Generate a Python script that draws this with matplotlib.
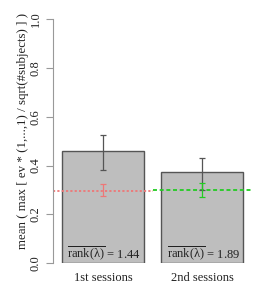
import matplotlib
matplotlib.use("Agg")
import matplotlib.pyplot as plt
import numpy as np

plt.rcParams['font.family'] = ['Liberation Serif', 'DejaVu Serif']
plt.rcParams['mathtext.fontset'] = 'custom'
plt.rcParams['mathtext.rm'] = 'Liberation Serif'
plt.rcParams['mathtext.it'] = 'Liberation Serif:italic'

categories = ["1st sessions", "2nd sessions"]
bar_values = [0.458, 0.375]
err_lo = [0.382, 0.300]
err_hi = [0.525, 0.430]
ref_values = [0.297, 0.299]
ref_lo = [0.274, 0.273]
ref_hi = [0.323, 0.327]
ref_colors = ["#EE7777", "#22CC22"]
rank_values = [1.44, 1.89]
yticks = [0.0, 0.2, 0.4, 0.6, 0.8, 1.0]
ylabel = "mean ( max [ ev * (1,...,1) / sqrt(#subjects) ] )"

fig = plt.figure(figsize=(2.7, 3.0), dpi=100)
ax = fig.add_axes([53/270, (300-263.3)/300, (252.6-53)/270, (263.3-19)/300])

x = np.arange(len(categories))
ax.bar(x, bar_values, width=0.825, color="#BEBEBE", edgecolor="#555555", linewidth=1.0, zorder=1)

for i in range(len(categories)):
    ls = (0, (1.2, 1.2)) if i == 0 else (0, (2.2, 1.5))
    ax.plot([i - 0.5, i + 0.5], [ref_values[i], ref_values[i]], color=ref_colors[i],
            linestyle=ls, linewidth=1.3, zorder=2)

for i in range(len(categories)):
    ax.errorbar([x[i]], [bar_values[i]],
                yerr=[[bar_values[i] - err_lo[i]], [err_hi[i] - bar_values[i]]],
                fmt='none', ecolor="#555555", elinewidth=0.9, capsize=2.2, capthick=0.9, zorder=3)
    ax.errorbar([x[i]], [ref_values[i]],
                yerr=[[ref_values[i] - ref_lo[i]], [ref_hi[i] - ref_values[i]]],
                fmt='none', ecolor=ref_colors[i], elinewidth=0.9, capsize=2.4, capthick=0.9, zorder=4)

for i in range(len(categories)):
    ax.text(x[i] - 0.36, 0.04, r"$\overline{\mathrm{rank(λ)}}$" + " = %.2f" % rank_values[i],
            ha='left', va='center', fontsize=9, color="#222222", zorder=5)

ax.set_xlim(-0.5035, 1.5066)
ax.set_ylim(0, 1.0)
ax.set_yticks(yticks)
ax.set_yticklabels(["%.1f" % v for v in yticks], rotation=90, va='center', fontsize=9, color="#222222")
ax.tick_params(axis='y', direction='out', length=5, width=0.8, color="#999999", pad=3)
ax.set_xticks(x)
ax.set_xticklabels(categories, fontsize=9, color="#222222")
ax.tick_params(axis='x', length=0, pad=6)
for s in ['top', 'right', 'bottom']:
    ax.spines[s].set_visible(False)
ax.spines['left'].set_color("#999999")
ax.spines['left'].set_linewidth(0.8)
ax.spines['left'].set_bounds(0, 1)

fig.text(23/270, (300-131)/300, ylabel, rotation=90, ha='center', va='center', fontsize=9.3, color="#222222")

fig.savefig("out.png", dpi=100)
